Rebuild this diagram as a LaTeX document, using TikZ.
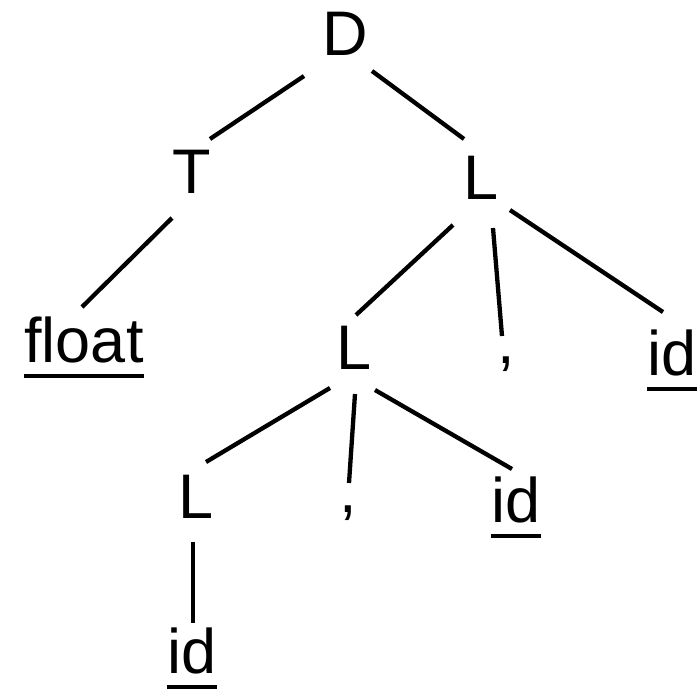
\documentclass[tikz,border=0pt]{standalone}
\usepackage{fontspec}
\setmainfont{Liberation Sans}
\begin{document}
\begin{tikzpicture}[x=1pt,y=-1pt,
  sym/.style={anchor=base,inner sep=0pt,outer sep=0pt,
              font=\fontsize{63}{75}\selectfont},
  edge/.style={line width=4.3pt,black},
  uline/.style={line width=4.5pt,black}]
\useasboundingbox (0,0) rectangle (697,691);

% tree symbols, placed by their baselines
\node[sym] (D)   at (345,55)  {D};
\node[sym] (T)   at (192,193) {T};
\node[sym] (L1)  at (481,199) {L};
\node[sym] (fl)  at (84,362)  {float};
\node[sym] (L2)  at (354,369) {L};
\node[sym] (c1)  at (506,363) {,};
\node[sym] (id1) at (672,375) {id};
\node[sym] (L3)  at (196,518) {L};
\node[sym] (c2)  at (348,512) {,};
\node[sym] (id2) at (516,522) {id};
\node[sym] (id3) at (192,673) {id};

% underlined terminals
\foreach \n in {fl,id1,id2,id3}
  \draw[uline] ([shift={(0,14)}]\n.base west) -- ([shift={(0,14)}]\n.base east);

% parse-tree edges
\draw[edge] ([shift={(-41,21)}]D.base)  -- ([shift={(18,-54)}]T.base);
\draw[edge] ([shift={(27,16)}]D.base)   -- ([shift={(-17,-60)}]L1.base);
\draw[edge] ([shift={(-20,25)}]T.base)  -- ([shift={(-2,-55)}]fl.base);
\draw[edge] ([shift={(-28,26)}]L1.base) -- ([shift={(2,-54)}]L2.base);
\draw[edge] ([shift={(12,29)}]L1.base)  -- ([shift={(-4,-27)}]c1.base);
\draw[edge] ([shift={(29,11)}]L1.base)  -- ([shift={(-9,-63)}]id1.base);
\draw[edge] ([shift={(-24,19)}]L2.base) -- ([shift={(10,-56)}]L3.base);
\draw[edge] ([shift={(1,25)}]L2.base)   -- ([shift={(1,-29)}]c2.base);
\draw[edge] ([shift={(21,21)}]L2.base)  -- ([shift={(-4,-53)}]id2.base);
\draw[edge] ([shift={(-3,24)}]L3.base)  -- ([shift={(1,-50)}]id3.base);
\end{tikzpicture}
\end{document}
